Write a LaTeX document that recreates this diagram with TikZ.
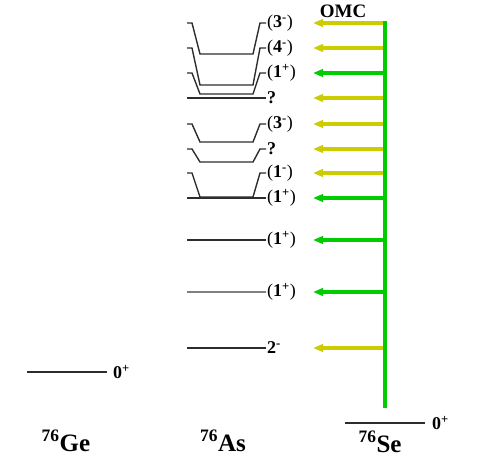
\documentclass[tikz,border=0pt]{standalone}
\usepackage{fontspec}
\setmainfont{Liberation Serif}
\usetikzlibrary{arrows.meta}

\definecolor{omcyel}{RGB}{204,204,0}
\definecolor{omcgrn}{RGB}{0,204,0}
\definecolor{lvlgray}{RGB}{45,45,45}
\newcommand{\spinpar}[2]{({\bfseries #1}\textsuperscript{\bfseries #2})}

\begin{document}
\begin{tikzpicture}[x=1pt,y=-1pt,
	lvl/.style={draw=lvlgray,line width=1.4pt},
	lab/.style={anchor=west,inner sep=0pt,font=\fontsize{18}{18}\selectfont},
	gnd/.style={anchor=west,inner sep=0pt,font=\bfseries\fontsize{18}{18}\selectfont},
	iso/.style={anchor=base,inner sep=0pt,font=\bfseries\fontsize{25}{25}\selectfont},
	omc/.style={line width=3.5pt,-{Triangle[length=10pt,width=7.5pt]}}]
			\useasboundingbox (0,0) rectangle (498,464);
			
			% 76As levels
			\foreach \y/\b in {23/54,48/85,73/94,124/142,149/162,173/197}
				\draw[lvl] (187,\y) -- (192,\y) -- (200,\b) -- (253,\b) -- (260,\y) -- (266,\y);
			\foreach \y in {98,198,240,348} \draw[lvl] (187,\y) -- (266,\y);
			\draw[lvl,draw=gray] (187,292) -- (266,292);
			
			\node[lab] (a1) at (267,23) {\spinpar{3}{-}};
			\node[lab] (a2) at (267,48) {\spinpar{4}{-}};
			\node[lab] (a3) at (267,73) {\spinpar{1}{+}};
			\node[lab] (a4) at (267,98) {\bfseries ?};
			\node[lab] (a5) at (267,124) {\spinpar{3}{-}};
			\node[lab] (a6) at (267,149) {\bfseries ?};
			\node[lab] (a7) at (267,173) {\spinpar{1}{-}};
			\node[lab] (a8) at (267,198) {\spinpar{1}{+}};
			\node[lab] (a9) at (267,240) {\spinpar{1}{+}};
			\node[lab] (a10) at (267,292) {\spinpar{1}{+}};
			\node[lab] (a11) at (267,348) {\bfseries 2\textsuperscript{-}};
			
			% ground states
			\draw[lvl] (27,372) -- (107,372); \node[gnd] (ge0) at (113,372) {0\textsuperscript{+}};
			\draw[lvl] (345,423) -- (425,423); \node[gnd] (se0) at (432,423) {0\textsuperscript{+}};
			
			% OMC transitions
			\coordinate (top) at (385,21); \coordinate (bot) at (385,408);
			\foreach \y/\c [count=\i] in {23/omcyel,48/omcyel,73/omcgrn,98/omcyel,124/omcyel,149/omcyel,173/omcyel,198/omcgrn,240/omcgrn,292/omcgrn,348/omcyel}
			{
				\coordinate (s\i) at (385,\y); \coordinate (t\i) at (313,\y);
				\draw[omc,\c] (s\i) -- (t\i);
			}
			\draw[omcgrn,line width=4pt] (top) -- (bot);
			\node[font=\bfseries\fontsize{19}{19}\selectfont,inner sep=0pt] (omclab) at (343,11) {OMC};
			
			\node[iso] (ge) at (66,451) {\textsuperscript{76}Ge};
			\node[iso] (as) at (223,451) {\textsuperscript{76}As};
			\node[iso] (se) at (380,452) {\textsuperscript{76}Se};
\end{tikzpicture}
\end{document}
